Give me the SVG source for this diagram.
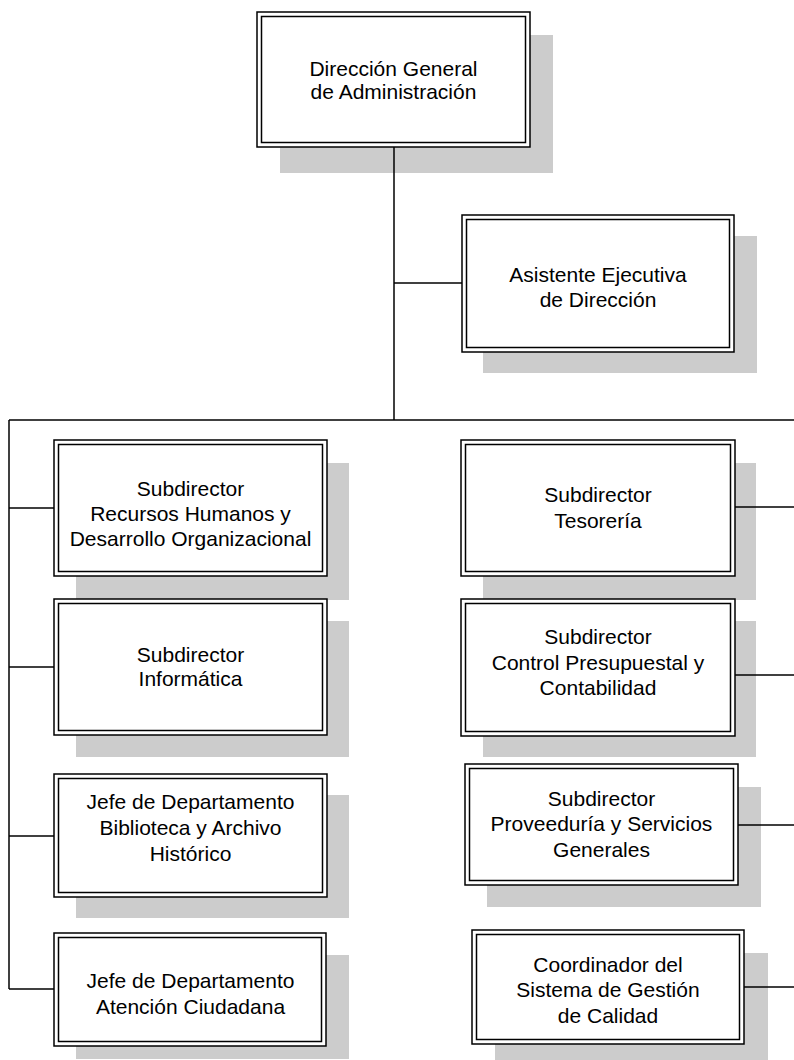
<svg xmlns="http://www.w3.org/2000/svg" width="794" height="1060" viewBox="0 0 794 1060">
<style>
.sh{fill:#cccccc;stroke:none}
.bo{fill:#ffffff;stroke:#000;stroke-width:1.5}
.bi{fill:none;stroke:#000;stroke-width:1.5}
.t{font-family:"Liberation Sans",Arial,sans-serif;font-size:21px;fill:#000;text-anchor:middle}
.c{fill:none;stroke:#000;stroke-width:1.5}
</style>
<rect width="794" height="1060" fill="#ffffff"/>
<g id="n_direccion">
<rect class="sh" x="280" y="35" width="273" height="138"/>
<rect class="bo" x="257" y="12" width="273" height="135"/>
<rect class="bi" x="261.5" y="16.5" width="264" height="126"/>
<text class="t" x="393.5" y="76">Dirección General</text>
<text class="t" x="393.5" y="99">de Administración</text>
</g>
<g id="n_asistente">
<rect class="sh" x="483" y="236" width="274" height="137"/>
<rect class="bo" x="462" y="215" width="272" height="137"/>
<rect class="bi" x="466.5" y="219.5" width="263" height="128"/>
<text class="t" x="598" y="282">Asistente Ejecutiva</text>
<text class="t" x="598" y="307">de Dirección</text>
</g>
<g id="n_rrhh">
<rect class="sh" x="76" y="463" width="273" height="137"/>
<rect class="bo" x="54" y="440" width="273" height="136"/>
<rect class="bi" x="58.5" y="444.5" width="264" height="127"/>
<text class="t" x="190.5" y="496">Subdirector</text>
<text class="t" x="190.5" y="521">Recursos Humanos y</text>
<text class="t" x="190.5" y="546">Desarrollo Organizacional</text>
</g>
<g id="n_informatica">
<rect class="sh" x="76" y="621" width="273" height="136"/>
<rect class="bo" x="54" y="599" width="273" height="136"/>
<rect class="bi" x="58.5" y="603.5" width="264" height="127"/>
<text class="t" x="190.5" y="662">Subdirector</text>
<text class="t" x="190.5" y="686">Informática</text>
</g>
<g id="n_biblioteca">
<rect class="sh" x="76" y="795" width="273" height="123"/>
<rect class="bo" x="54" y="774" width="273" height="123"/>
<rect class="bi" x="58.5" y="778.5" width="264" height="114"/>
<text class="t" x="190.5" y="809">Jefe de Departamento</text>
<text class="t" x="190.5" y="835">Biblioteca y Archivo</text>
<text class="t" x="190.5" y="861">Histórico</text>
</g>
<g id="n_atencion">
<rect class="sh" x="76" y="955" width="273" height="104"/>
<rect class="bo" x="54" y="933" width="272" height="113"/>
<rect class="bi" x="58.5" y="937.5" width="263" height="104"/>
<text class="t" x="190.5" y="988">Jefe de Departamento</text>
<text class="t" x="190.5" y="1014">Atención Ciudadana</text>
</g>
<g id="n_tesoreria">
<rect class="sh" x="483" y="463" width="273" height="137"/>
<rect class="bo" x="461" y="440" width="274" height="136"/>
<rect class="bi" x="465.5" y="444.5" width="265" height="127"/>
<text class="t" x="598" y="502">Subdirector</text>
<text class="t" x="598" y="528">Tesorería</text>
</g>
<g id="n_presupuestal">
<rect class="sh" x="483" y="621" width="273" height="136"/>
<rect class="bo" x="461" y="599" width="274" height="137"/>
<rect class="bi" x="465.5" y="603.5" width="265" height="128"/>
<text class="t" x="598" y="644">Subdirector</text>
<text class="t" x="598" y="670">Control Presupuestal y</text>
<text class="t" x="598" y="695">Contabilidad</text>
</g>
<g id="n_proveeduria">
<rect class="sh" x="487" y="787" width="274" height="120"/>
<rect class="bo" x="465" y="764" width="273" height="121"/>
<rect class="bi" x="469.5" y="768.5" width="264" height="112"/>
<text class="t" x="601.5" y="806">Subdirector</text>
<text class="t" x="601.5" y="831">Proveeduría y Servicios</text>
<text class="t" x="601.5" y="857">Generales</text>
</g>
<g id="n_calidad">
<rect class="sh" x="495" y="953" width="273" height="107"/>
<rect class="bo" x="472" y="930" width="272" height="114"/>
<rect class="bi" x="476.5" y="934.5" width="263" height="105"/>
<text class="t" x="608" y="972">Coordinador del</text>
<text class="t" x="608" y="997">Sistema de Gestión</text>
<text class="t" x="608" y="1023">de Calidad</text>
</g>
<g id="connectors">
<line class="c" x1="394" y1="147" x2="394" y2="420"/>
<line class="c" x1="394" y1="283" x2="462" y2="283"/>
<line class="c" x1="9" y1="420" x2="794" y2="420"/>
<line class="c" x1="9" y1="420" x2="9" y2="989"/>
<line class="c" x1="9" y1="508" x2="54" y2="508"/>
<line class="c" x1="9" y1="667" x2="54" y2="667"/>
<line class="c" x1="9" y1="836" x2="54" y2="836"/>
<line class="c" x1="9" y1="989" x2="54" y2="989"/>
<line class="c" x1="735" y1="507" x2="794" y2="507"/>
<line class="c" x1="735" y1="675" x2="794" y2="675"/>
<line class="c" x1="738" y1="825" x2="794" y2="825"/>
<line class="c" x1="744" y1="987" x2="794" y2="987"/>
</g>
</svg>
